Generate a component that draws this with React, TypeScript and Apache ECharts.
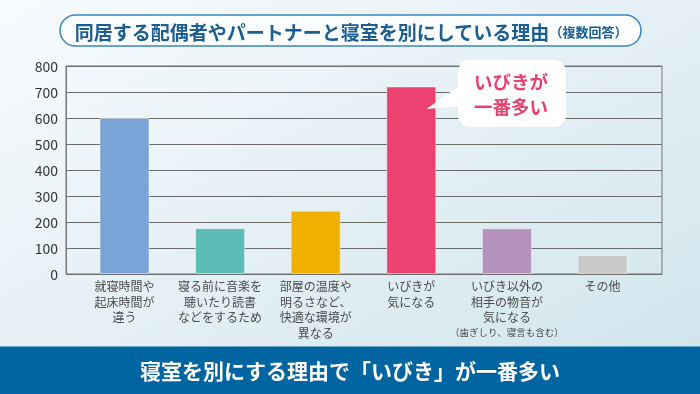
import React, { useEffect, useRef } from "react";
import * as echarts from "echarts";

const categories = [
  "就寝時間や\n起床時間が\n違う",
  "寝る前に音楽を\n聴いたり読書\nなどをするため",
  "部屋の温度や\n明るさなど、\n快適な環境が\n異なる",
  "いびきが\n気になる",
  "いびき以外の\n相手の物音が\n気になる\n（歯ぎしり、寝言も含む）",
  "その他",
];
const values = [600, 176, 243, 721, 176, 73];
const barColors = ["#7aa3d8", "#5dbcb8", "#efb000", "#ec426f", "#b592bc", "#c8c8c8"];
const titleMain = "同居する配偶者やパートナーと寝室を別にしている理由";
const titleSub = "（複数回答）";
const bannerText = "寝室を別にする理由で「いびき」が一番多い";
const calloutLines = ["いびきが", "一番多い"];

const FONT = "'Noto Sans CJK JP', 'Noto Sans', sans-serif";

export default function App() {
  const ref = useRef<HTMLDivElement>(null);
  useEffect(() => {
    document.body.style.margin = "0";
    const chart = echarts.init(ref.current!, null, { renderer: "svg" });
    chart.setOption({
      animation: false,
      textStyle: { fontFamily: FONT },
      graphic: [
        {
          type: "rect",
          z: -10,
          shape: { x: 0, y: 0, width: 700, height: 394 },
          style: {
            fill: new echarts.graphic.LinearGradient(0, 0, 1, 1, [
              { offset: 0, color: "#f8fbfd" },
              { offset: 1, color: "#cfe4ec" },
            ]),
          },
          silent: true,
        },
        {
          type: "rect",
          z: 5,
          shape: { x: 60, y: 15, width: 581, height: 31, r: 15.5 },
          style: { fill: "#fbfdfe", stroke: "#3a86c0", lineWidth: 1.5 },
        },
        {
          type: "text",
          z: 6,
          x: 351,
          y: 31,
          style: {
            text: `{a|${titleMain}}{b|${titleSub}}`,
            align: "center",
            verticalAlign: "middle",
            rich: {
              a: { fontSize: 19, fontWeight: "bold", fill: "#1b5e93", fontFamily: FONT },
              b: { fontSize: 13, fontWeight: "bold", fill: "#1b5e93", fontFamily: FONT },
            },
          },
        },
        {
          type: "rect",
          z: 5,
          shape: { x: 0, y: 346.5, width: 700, height: 48 },
          style: { fill: "#0065a0" },
        },
        {
          type: "text",
          z: 6,
          x: 350,
          y: 370,
          style: {
            text: bannerText,
            align: "center",
            verticalAlign: "middle",
            fontSize: 21,
            fontWeight: "bold",
            fill: "#ffffff",
            fontFamily: FONT,
          },
        },
        {
          type: "polygon",
          z: 20,
          shape: { points: [[462, 84], [426.5, 109], [462, 106]] },
          style: { fill: "#ffffff" },
        },
        {
          type: "rect",
          z: 20,
          shape: { x: 458, y: 60, width: 108, height: 67, r: 12 },
          style: { fill: "#ffffff" },
        },
        ...calloutLines.map((t, i) => ({
          type: "text",
          z: 21,
          x: 511,
          y: 81 + i * 24.5,
          style: {
            text: t,
            align: "center",
            verticalAlign: "middle",
            fontSize: 18.5,
            fontWeight: "bold",
            fill: "#e8416f",
            fontFamily: FONT,
          },
        })),
      ],
      grid: [
        { left: 66, right: 38, top: 66, bottom: 120, show: true, borderColor: "#777777", borderWidth: 1, backgroundColor: "transparent" },
        { left: 76.7, right: 49.7, top: 66, bottom: 120 },
      ],
      xAxis: [
        { type: "category", gridIndex: 0, data: categories, show: false },
        {
          type: "category",
          gridIndex: 1,
          data: categories,
          axisLine: { show: false },
          axisTick: { show: false },
          axisLabel: {
            interval: 0,
            margin: 4,
            fontSize: 12,
            lineHeight: 15.5,
            color: "#4a4a4a",
            fontFamily: FONT,
            formatter: (v: string) =>
              v
                .split("\n")
                .map((l) => (l.startsWith("（") ? `{s|${l}}` : `{n|${l}}`))
                .join("\n"),
            rich: {
              n: { fontSize: 12, lineHeight: 15.5, color: "#4a4a4a", fontFamily: FONT },
              s: { fontSize: 9.5, lineHeight: 14, color: "#4a4a4a", fontFamily: FONT },
            },
          },
        },
      ],
      yAxis: [
        {
          type: "value",
          gridIndex: 0,
          min: 0,
          max: 800,
          interval: 100,
          axisLine: { show: true, lineStyle: { color: "#777777" } },
          axisTick: { show: false },
          axisLabel: { fontSize: 14, color: "#333333", margin: 8, fontFamily: FONT },
          splitLine: { lineStyle: { color: "#6b6b6b", width: 1 } },
        },
        { type: "value", gridIndex: 1, min: 0, max: 800, interval: 100, show: false, splitLine: { show: false } },
      ],
      series: [
        {
          type: "bar",
          xAxisIndex: 1,
          yAxisIndex: 1,
          barWidth: 50,
          z: 3,
          data: values.map((v, i) => ({
            value: v,
            itemStyle: { color: barColors[i], borderColor: "rgba(255,255,255,0.45)", borderWidth: 1 },
          })),
        },
      ],
    });
    return () => chart.dispose();
  }, []);
  return <div ref={ref} style={{ position: "fixed", left: 0, top: 0, width: 700, height: 394 }} />;
}
